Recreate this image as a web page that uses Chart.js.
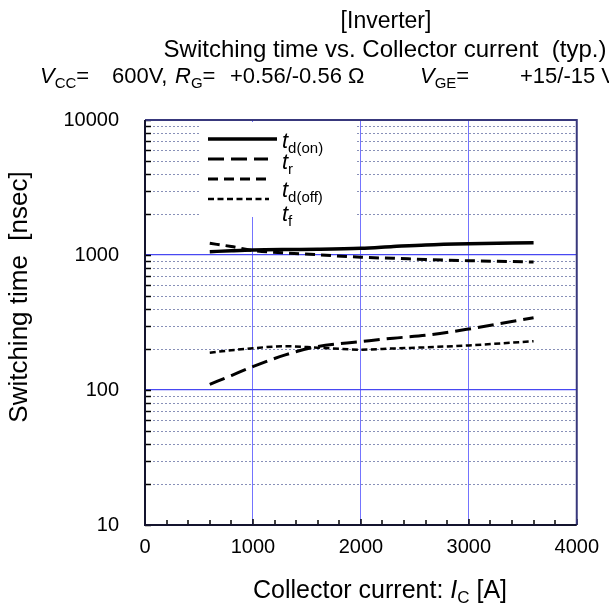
<!DOCTYPE html>
<html>
<head>
<meta charset="utf-8">
<title>Switching time vs. Collector current</title>
<script src="https://cdn.jsdelivr.net/npm/chart.js@4.4.0/dist/chart.umd.min.js"></script>
<style>
  html, body { margin: 0; padding: 0; background: #fff; }
  #wrap { width: 609px; height: 614px; }
</style>
</head>
<body>
<div id="wrap"><canvas id="chart" width="609" height="614"></canvas></div>
<script>
// Data
const currents = [600, 800, 1000, 1300, 1600, 2000, 2300, 2600, 3000, 3600];
const tdOnValues = [1058, 1075, 1089, 1098, 1102, 1120, 1155, 1188, 1212, 1232];
const trValues = [110, 128, 149, 182, 210, 228, 242, 254, 283, 343];
const tdOffValues = [1220, 1155, 1080, 1035, 1005, 962, 945, 927, 907, 888];
const tfValues = [189, 197, 204, 211, 206, 199, 203, 207, 214, 230];

const xTickLabels = [0, 1000, 2000, 3000, 4000];
const yTickLabels = [10, 100, 1000, 10000];

const legendSubs = ["d(on)", "r", "d(off)", "f"];

const FONT = '"Liberation Sans", Arial, sans-serif';

function toPoints(xs, ys) {
    return xs.map((x, i) => ({ x: x, y: ys[i] }));
}

// Draw text pieces one after another (italic / subscript)
function drawRich(ctx, x, y, parts, size) {
    ctx.textAlign = "left";
    ctx.textBaseline = "alphabetic";
    parts.forEach(p => {
        const s = p.sub ? Math.round(size * 0.66) : size;
        ctx.font = (p.italic ? "italic " : "") + s + "px " + FONT;
        ctx.fillText(p.text, x, y + (p.sub ? 5 : 0));
        x += ctx.measureText(p.text).width;
    });
    return x;
}

const seriesStyle = [
    { values: tdOnValues, width: 3.5, dash: [] },
    { values: trValues, width: 3, dash: [16, 7] },
    { values: tdOffValues, width: 3, dash: [10, 6] },
    { values: tfValues, width: 2.5, dash: [6, 3.5] }
];

const decorPlugin = {
    id: "decor",
    beforeDatasetsDraw(chart) {
        const ctx = chart.ctx;
        const area = chart.chartArea;
        const ys = chart.scales.y;
        ctx.save();
        // minor horizontal grid, dotted
        ctx.strokeStyle = "#8890b8";
        ctx.lineWidth = 1;
        ctx.setLineDash([2, 2]);
        ys.ticks.forEach(t => {
            if (yTickLabels.includes(t.value)) return;
            const py = Math.round(ys.getPixelForValue(t.value)) + 0.5;
            ctx.beginPath();
            ctx.moveTo(area.left, py);
            ctx.lineTo(area.right, py);
            ctx.stroke();
        });
        ctx.setLineDash([]);
        // white box behind the legend
        ctx.fillStyle = "#fff";
        ctx.fillRect(201, area.top + 2, 155, 95);
        ctx.restore();
    },
    afterDatasetsDraw(chart) {
        const ctx = chart.ctx;
        const area = chart.chartArea;
        const xs = chart.scales.x;
        const ys = chart.scales.y;
        ctx.save();
        // inner tick marks
        ctx.strokeStyle = "#000";
        ctx.lineWidth = 1.5;
        xs.ticks.forEach(t => {
            const px = Math.round(xs.getPixelForValue(t.value));
            const len = t.value % 1000 === 0 ? 6 : 5;
            ctx.beginPath();
            ctx.moveTo(px, area.bottom);
            ctx.lineTo(px, area.bottom - len);
            ctx.stroke();
        });
        ys.ticks.forEach(t => {
            const py = Math.round(ys.getPixelForValue(t.value)) + 0.5;
            ctx.beginPath();
            ctx.moveTo(area.left, py);
            ctx.lineTo(area.left + 6, py);
            ctx.stroke();
        });
        // plot frame
        ctx.lineWidth = 2;
        ctx.strokeStyle = "#38387c";
        ctx.beginPath();
        ctx.moveTo(area.left, area.top);
        ctx.lineTo(area.right, area.top);
        ctx.lineTo(area.right, area.bottom);
        ctx.stroke();
        ctx.strokeStyle = "#14142e";
        ctx.beginPath();
        ctx.moveTo(area.left, area.top);
        ctx.lineTo(area.left, area.bottom);
        ctx.lineTo(area.right, area.bottom);
        ctx.stroke();

        // legend samples
        const rowsY = [139, 159, 179, 199];
        const ends = [277, 268, 269, 269];
        seriesStyle.forEach((s, i) => {
            ctx.strokeStyle = "#000";
            ctx.lineWidth = s.width;
            ctx.setLineDash(s.dash);
            ctx.beginPath();
            ctx.moveTo(208, rowsY[i]);
            ctx.lineTo(ends[i], rowsY[i]);
            ctx.stroke();
        });
        ctx.setLineDash([]);
        ctx.fillStyle = "#000";
        const labelsY = [148, 169, 197, 221];
        legendSubs.forEach((sub, i) => {
            drawRich(ctx, 282, labelsY[i], [
                { text: "t", italic: true },
                { text: sub, sub: true }
            ], 22);
        });
        ctx.restore();
    },
    afterDraw(chart) {
        const ctx = chart.ctx;
        ctx.save();
        ctx.fillStyle = "#000";
        ctx.textBaseline = "alphabetic";
        ctx.textAlign = "center";
        ctx.font = "23px " + FONT;
        ctx.fillText("[Inverter]", 386, 28);
        ctx.font = "24px " + FONT;
        ctx.fillText("Switching time vs. Collector current  (typ.)", 385, 57);

        // conditions line
        drawRich(ctx, 40, 83, [{ text: "V", italic: true }, { text: "CC", sub: true }, { text: "=" }], 22);
        drawRich(ctx, 112, 83, [{ text: "600V," }], 22);
        drawRich(ctx, 175, 83, [{ text: "R", italic: true }, { text: "G", sub: true }, { text: "=" }], 22);
        drawRich(ctx, 230, 83, [{ text: "+0.56/-0.56 \u03A9" }], 22);
        drawRich(ctx, 420, 83, [{ text: "V", italic: true }, { text: "GE", sub: true }, { text: "=" }], 22);
        drawRich(ctx, 520, 83, [{ text: "+15/-15 V" }], 22);

        // axis titles
        drawRich(ctx, 253, 598, [
            { text: "Collector current: " },
            { text: "I", italic: true },
            { text: "C", sub: true },
            { text: " [A]" }
        ], 25);

        ctx.save();
        ctx.translate(20, 297);
        ctx.rotate(-Math.PI / 2);
        ctx.textAlign = "center";
        ctx.textBaseline = "middle";
        ctx.font = "26px " + FONT;
        ctx.fillText("Switching time  [nsec]", 0, 0);
        ctx.restore();
        ctx.restore();
    }
};

function main() {
    const ctx = document.getElementById("chart").getContext("2d");

    const datasets = seriesStyle.map((s, i) => ({
        label: "t" + legendSubs[i],
        data: toPoints(currents, s.values),
        borderColor: "#000",
        borderWidth: s.width,
        borderDash: s.dash,
        pointRadius: 0,
        fill: false,
        tension: 0.4,
        cubicInterpolationMode: "monotone"
    }));

    new Chart(ctx, {
        type: "line",
        data: { datasets: datasets },
        options: {
            responsive: false,
            animation: false,
            devicePixelRatio: 1,
            layout: { padding: { top: 120, right: 29, left: 0, bottom: 0 } },
            plugins: {
                legend: { display: false },
                title: { display: false },
                tooltip: { enabled: false }
            },
            scales: {
                x: {
                    type: "linear",
                    min: 0,
                    max: 4000,
                    afterBuildTicks: scale => {
                        const ticks = [];
                        for (let v = 0; v <= 4000; v += 200) ticks.push({ value: v });
                        scale.ticks = ticks;
                    },
                    afterFit: scale => { scale.height = 89; },
                    border: { display: false },
                    grid: {
                        drawTicks: false,
                        lineWidth: 1,
                        color: c => {
                            const v = c.tick ? c.tick.value : 0;
                            return (v % 1000 === 0 && v > 0 && v < 4000) ? "#7474ff" : "rgba(0,0,0,0)";
                        }
                    },
                    ticks: {
                        autoSkip: false,
                        maxRotation: 0,
                        padding: 10,
                        color: "#000",
                        font: { family: FONT, size: 20 },
                        callback: v => xTickLabels.includes(v) ? String(v) : ""
                    }
                },
                y: {
                    type: "logarithmic",
                    min: 10,
                    max: 10000,
                    afterBuildTicks: scale => {
                        const ticks = [];
                        for (let d = 10; d < 10000; d *= 10) {
                            for (let m = 1; m < 10; m++) ticks.push({ value: d * m });
                        }
                        ticks.push({ value: 10000 });
                        scale.ticks = ticks;
                    },
                    afterFit: scale => { scale.width = 145; },
                    border: { display: false },
                    grid: {
                        drawTicks: false,
                        lineWidth: 1.2,
                        color: c => {
                            const v = c.tick ? c.tick.value : 0;
                            return (v === 100 || v === 1000) ? "#4848f2" : "rgba(0,0,0,0)";
                        }
                    },
                    ticks: {
                        autoSkip: false,
                        padding: 26,
                        color: "#000",
                        font: { family: FONT, size: 20 },
                        callback: v => yTickLabels.includes(v) ? String(v) : ""
                    }
                }
            }
        },
        plugins: [decorPlugin]
    });
}

window.onload = main;
</script>
</body>
</html>
